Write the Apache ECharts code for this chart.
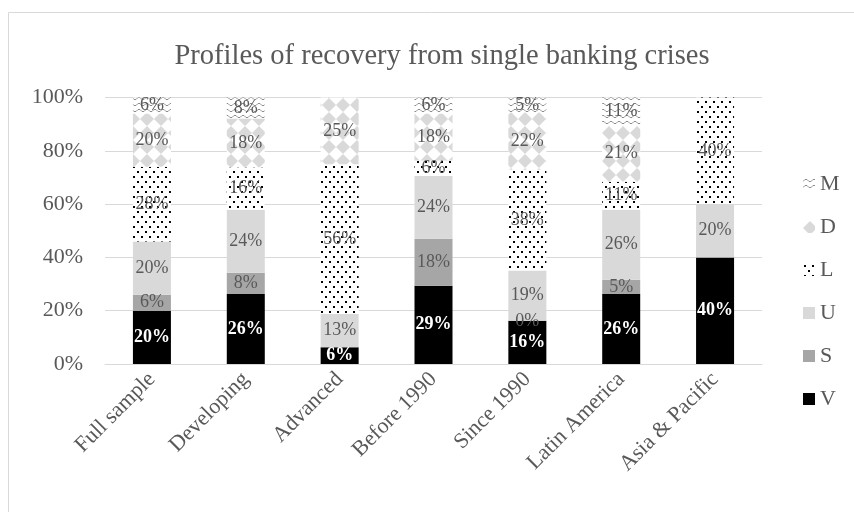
<!DOCTYPE html>
<html>
<head>
<meta charset="utf-8">
<script src="https://cdn.jsdelivr.net/npm/echarts@6/dist/echarts.min.js"></script>
<style>
html,body{margin:0;padding:0;background:#fff;}
#c{width:854px;height:512px;}
</style>
</head>
<body>
<div id="c"></div>
<script>
const categories = ['Full sample','Developing','Advanced','Before 1990','Since 1990','Latin America','Asia & Pacific'];
const seriesNames = ['V','S','U','L','D','M'];
const V = [20, 26.3, 6.25, 29.4, 16.2, 26.3, 40];
const S = [6, 7.9, null, 17.6, 0, 5.3, null];
const U = [20, 23.7, 12.5, 23.5, 18.9, 26.3, 20];
const L = [28, 15.8, 56.25, 5.9, 37.8, 10.5, 40];
const D = [20, 18.4, 25, 17.6, 21.6, 21.1, null];
const M = [6, 7.9, null, 5.9, 5.4, 10.5, null];
const yTicks = [0, 20, 40, 60, 80, 100];
const legendOrder = ['M','D','L','U','S','V'];

const FONT = '"Liberation Serif", "Times New Roman", serif';
const TXT = '#595959';

function tile(w, h, draw) {
  const c = document.createElement('canvas');
  c.width = w; c.height = h;
  const g = c.getContext('2d');
  g.fillStyle = '#ffffff';
  g.fillRect(0, 0, w, h);
  draw(g);
  return c;
}
const dotTile = tile(8, 10, g => {
  g.fillStyle = '#000';
  g.fillRect(1, 1, 2, 2);
  g.fillRect(5, 6, 2, 2);
});
const diamondTile = tile(14, 14, g => {
  g.fillStyle = '#d9d9d9';
  g.beginPath();
  g.moveTo(7, 0); g.lineTo(14, 7); g.lineTo(7, 14); g.lineTo(0, 7);
  g.closePath(); g.fill();
});
const waveTile = tile(8, 6, g => {
  g.strokeStyle = '#8c8c8c';
  g.lineWidth = 1;
  g.beginPath();
  g.moveTo(0, 3.5); g.lineTo(2, 1.5); g.lineTo(4, 1.5); g.lineTo(6, 3.5); g.lineTo(8, 3.5);
  g.stroke();
});

const fills = {
  V: '#000000',
  S: '#a6a6a6',
  U: '#d9d9d9',
  L: {image: dotTile, repeat: 'repeat'},
  D: {image: diamondTile, repeat: 'repeat'},
  M: {image: waveTile, repeat: 'repeat'}
};
const dataMap = {V, S, U, L, D, M};

const chart = echarts.init(document.getElementById('c'), null, {renderer: 'canvas'});

const series = seriesNames.map(n => ({
  name: n,
  type: 'bar',
  stack: 'total',
  barWidth: 38,
  data: dataMap[n],
  itemStyle: {color: fills[n]},
  label: {
    show: true,
    position: 'inside',
    formatter: p => (p.value == null ? '' : Math.round(p.value) + '%'),
    fontFamily: FONT,
    fontSize: 18,
    color: n === 'V' ? '#ffffff' : TXT,
    fontWeight: n === 'V' ? 'bold' : 'normal'
  },
  emphasis: {disabled: true}
}));

chart.setOption({
  animation: false,
  backgroundColor: '#ffffff',
  title: {
    text: 'Profiles of recovery from single banking crises',
    left: 437,
    textAlign: 'center',
    top: 37,
    textStyle: {fontFamily: FONT, fontSize: 28.5, fontWeight: 'normal', color: TXT}
  },
  graphic: [{
    type: 'rect',
    shape: {x: 8.5, y: 12.5, width: 900, height: 600},
    style: {fill: 'none', stroke: '#d9d9d9', lineWidth: 1},
    silent: true
  }],
  legend: {
    data: legendOrder,
    orient: 'vertical',
    left: 798,
    top: 168,
    itemWidth: 12,
    itemHeight: 12,
    itemGap: 21,
    icon: 'rect',
    textStyle: {fontFamily: FONT, fontSize: 22, color: TXT, lineHeight: 22},
    selectedMode: false
  },
  grid: {left: 105, right: 92, top: 97.5, bottom: 148, containLabel: false},
  xAxis: {
    type: 'category',
    data: categories,
    axisLine: {lineStyle: {color: '#d9d9d9', width: 1}},
    axisTick: {show: false},
    axisLabel: {rotate: 45, interval: 0, fontFamily: FONT, fontSize: 22, color: TXT, margin: 12}
  },
  yAxis: {
    type: 'value',
    min: 0,
    max: 100,
    interval: 20,
    axisLine: {show: false},
    axisTick: {show: false},
    splitLine: {lineStyle: {color: '#d9d9d9', width: 1}},
    axisLabel: {
      fontFamily: FONT, fontSize: 22, color: TXT, margin: 22,
      formatter: v => (yTicks.indexOf(v) >= 0 ? v + '%' : '')
    }
  },
  series: series
});
</script>
</body>
</html>
